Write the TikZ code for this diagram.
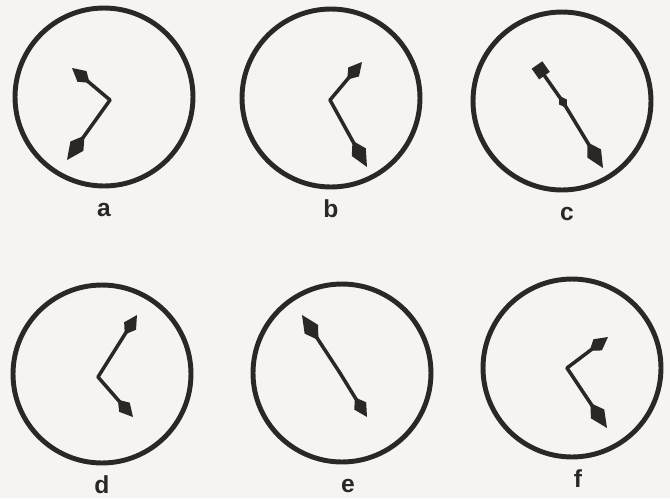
\documentclass[tikz,border=0pt]{standalone}
\usepackage{fontspec}
\setmainfont{Liberation Sans}
\usepackage{xcolor}
\usetikzlibrary{arrows.meta,positioning,shapes.geometric}
\definecolor{PaperWhite}{HTML}{F6F4F0}
\definecolor{InkGray}{HTML}{2A2826}
\tikzset{
  dial/.style={circle, draw=InkGray, line width=2.8pt, minimum size=3.56cm, inner sep=0pt},
  dialcap/.style={font=\fontsize{14}{14}\selectfont\bfseries, text=InkGray, inner sep=0pt, text height=10pt, text depth=0pt},
  hand/.style={line width=2pt, draw=InkGray, line cap=round},
  shorttip/.style={-{Kite[length=4.6mm, width=2.8mm, inset=2mm]}},
  longtip/.style={-{Kite[length=6mm, width=3.2mm, inset=2.6mm]}},
  squaretip/.style={-{Square[length=2.6mm, width=2.6mm]}},
  pindot/.style={diamond, fill=InkGray, inner sep=0pt, minimum width=3mm, minimum height=1.9mm}
}
\begin{document}
\begin{tikzpicture}[x=0.02cm, y=-0.02cm, node distance=0.2cm]
\fill[PaperWhite] (0,0) rectangle (670,498);
\useasboundingbox (0,0) rectangle (670,498);
\node[dial] (dialA) at (104,97) {};
\node[dial] (dialB) at (331,98) {};
\node[dial] (dialC) at (562,101) {};
\node[dial] (dialD) at (102,374) {};
\node[dial] (dialE) at (342,373) {};
\node[dial] (dialF) at (572,368) {};
\node[dialcap, below=of dialA] (capA) {a};
\node[dialcap, below=of dialB] (capB) {b};
\node[dialcap, below=of dialC, xshift=0.1cm] (capC) {c};
\node[dialcap, below=of dialD] (capD) {d};
\node[dialcap, below=of dialE, xshift=0.12cm] (capE) {e};
\node[dialcap, below=of dialF, xshift=0.12cm] (capF) {f};
\coordinate (pivA) at (110,100);
\coordinate (hrA) at (72,68);
\coordinate (mnA) at (67,160);
\coordinate (pivB) at (330,100);
\coordinate (hrB) at (362,62);
\coordinate (mnB) at (367,167);
\coordinate (hrC) at (537,65);
\coordinate (mnC) at (603,168);
\coordinate (pivD) at (98,377);
\coordinate (hrD) at (137,315);
\coordinate (mnD) at (133,417);
\coordinate (pivE) at (340,373);
\coordinate (hrE) at (302,315);
\coordinate (mnE) at (367,417);
\coordinate (pivF) at (567,368);
\coordinate (hrF) at (608,337);
\coordinate (mnF) at (607,428);
\draw[hand, shorttip] (pivA) -- (hrA);
\draw[hand, longtip] (pivA) -- (mnA);
\draw[hand, shorttip] (pivB) -- (hrB);
\draw[hand, longtip] (pivB) -- (mnB);
\node[pindot, rotate=-58] (pivC) at (563,102) {};
\draw[hand, squaretip] (pivC.center) -- (hrC);
\draw[hand, longtip] (pivC.center) -- (mnC);
\draw[hand, shorttip] (pivD) -- (hrD);
\draw[hand, shorttip] (pivD) -- (mnD);
\draw[hand, longtip] (pivE) -- (hrE);
\draw[hand, shorttip] (pivE) -- (mnE);
\draw[hand, shorttip] (pivF) -- (hrF);
\draw[hand, longtip] (pivF) -- (mnF);
\end{tikzpicture}
\end{document}
